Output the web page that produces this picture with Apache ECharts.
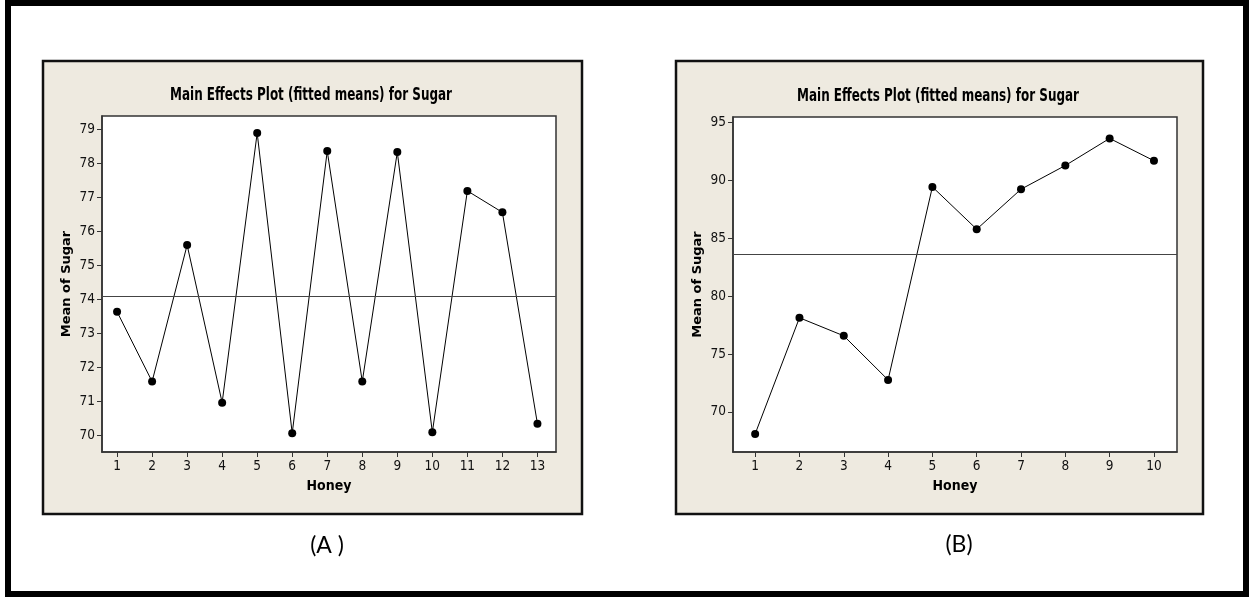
<!DOCTYPE html>
<html>
<head>
<meta charset="utf-8">
<script src="https://cdn.jsdelivr.net/npm/echarts@6/dist/echarts.min.js"></script>
<style>
  html, body { margin: 0; padding: 0; background: #fff; }
  #main { width: 1249px; height: 597px; }
</style>
</head>
<body>
<div id="main"></div>
<script>
// values
const honeyA = [1, 2, 3, 4, 5, 6, 7, 8, 9, 10, 11, 12, 13];
const sugarA = [73.64, 71.59, 75.60, 70.97, 78.89, 70.07, 78.36, 71.59, 78.33, 70.10, 77.19, 76.56, 70.35];
const meanA = 74.09;
const yTicksA = [70, 71, 72, 73, 74, 75, 76, 77, 78, 79];

const honeyB = [1, 2, 3, 4, 5, 6, 7, 8, 9, 10];
const sugarB = [68.10, 78.14, 76.58, 72.77, 89.45, 85.79, 89.25, 91.30, 93.64, 91.71];
const meanB = 83.63;
const yTicksB = [70, 75, 80, 85, 90, 95];

const titleText = "Main Effects Plot (fitted means) for Sugar";
const captions = ["(A )", "(B)"];

const narrow = "'DejaVu Sans Condensed', 'Liberation Sans Narrow', Roboto, sans-serif";
const panelFill = "#EEEAE0";

function pairs(xs, ys) {
  return xs.map((x, i) => [x, ys[i]]);
}

function xAxisFor(grid, ticks, min, max) {
  return {
    type: "value",
    gridIndex: grid,
    min: min,
    max: max,
    name: "Honey",
    nameLocation: "middle",
    nameGap: 27,
    nameTextStyle: { fontFamily: narrow, fontWeight: "bold", fontSize: 14, color: "#000" },
    axisLine: { show: true, lineStyle: { color: "#333", width: 1.5 } },
    axisTick: { show: true, length: 5, customValues: ticks, lineStyle: { color: "#333" } },
    axisLabel: { customValues: ticks, margin: 7, fontFamily: narrow, fontSize: 13.5, color: "#111" },
    splitLine: { show: false }
  };
}

function yAxisFor(grid, ticks, min, max) {
  return {
    type: "value",
    gridIndex: grid,
    min: min,
    max: max,
    name: "Mean of Sugar",
    nameLocation: "middle",
    nameGap: 29,
    nameTextStyle: { fontFamily: "DejaVu Sans", fontWeight: "bold", fontSize: 13, color: "#000" },
    axisLine: { show: true, lineStyle: { color: "#333", width: 1.5 } },
    axisTick: { show: true, length: 5, customValues: ticks, lineStyle: { color: "#333" } },
    axisLabel: { customValues: ticks, margin: 7, fontFamily: narrow, fontSize: 13.5, color: "#111" },
    splitLine: { show: false }
  };
}

function lineSeries(idx, data, mean) {
  return {
    type: "line",
    xAxisIndex: idx,
    yAxisIndex: idx,
    data: data,
    symbol: "circle",
    symbolSize: 8,
    itemStyle: { color: "#000" },
    lineStyle: { color: "#000", width: 1 },
    markLine: {
      silent: true,
      symbol: "none",
      label: { show: false },
      lineStyle: { color: "#444", width: 1.2, type: "solid" },
      data: [{ yAxis: mean }]
    }
  };
}

// Minitab titles are a tall condensed bold face: squeeze a bold condensed font horizontally
function plotTitle(x, y) {
  return {
    type: "text", x: x, y: y, scaleX: 0.74,
    style: {
      text: titleText, fill: "#000",
      font: "bold 18px 'DejaVu Sans Condensed', sans-serif",
      textAlign: "center", textVerticalAlign: "middle"
    }
  };
}

const options = {
  animation: false,
  backgroundColor: "#fff",
  grid: [
    { left: 102, top: 116, width: 454, height: 336, show: true, backgroundColor: "#fff", borderColor: "#333", borderWidth: 1.5 },
    { left: 733, top: 117, width: 444, height: 335, show: true, backgroundColor: "#fff", borderColor: "#333", borderWidth: 1.5 }
  ],
  xAxis: [
    xAxisFor(0, honeyA, 0.57, 13.53),
    xAxisFor(1, honeyB, 0.5, 10.52)
  ],
  yAxis: [
    yAxisFor(0, yTicksA, 69.52, 79.39),
    yAxisFor(1, yTicksB, 66.54, 95.49)
  ],
  series: [
    lineSeries(0, pairs(honeyA, sugarA), meanA),
    lineSeries(1, pairs(honeyB, sugarB), meanB)
  ],
  graphic: [
    {
      type: "rect", z: -10,
      shape: { x: 8, y: 3, width: 1238, height: 591 },
      style: { fill: "#fff", stroke: "#000", lineWidth: 6 }
    },
    {
      type: "rect", z: -5,
      shape: { x: 43, y: 61, width: 539, height: 453 },
      style: { fill: panelFill, stroke: "#111", lineWidth: 2.5 }
    },
    {
      type: "rect", z: -5,
      shape: { x: 676, y: 61, width: 527, height: 453 },
      style: { fill: panelFill, stroke: "#111", lineWidth: 2.5 }
    },
    plotTitle(311, 95),
    plotTitle(938, 96),
    {
      type: "text", x: 327, y: 546,
      style: { text: captions[0], font: "23px Lato", fill: "#000", textAlign: "center", textVerticalAlign: "middle" }
    },
    {
      type: "text", x: 959, y: 545,
      style: { text: captions[1], font: "23px Lato", fill: "#000", textAlign: "center", textVerticalAlign: "middle" }
    }
  ]
};

const chart = echarts.init(document.getElementById("main"));
chart.setOption(options);
</script>
</body>
</html>
